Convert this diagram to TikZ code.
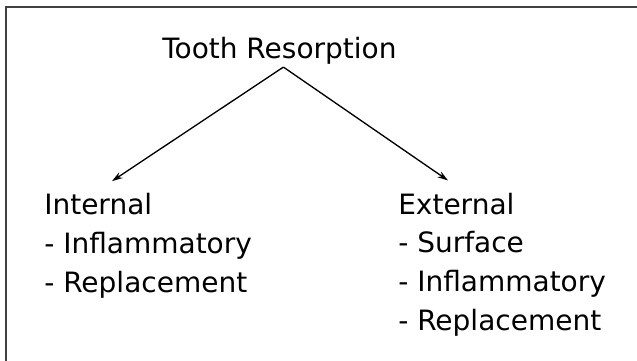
\documentclass[tikz,border=0pt]{standalone}
\usepackage{fontspec}
\newfontfamily\diafont{DejaVu Sans}
\usetikzlibrary{
  calc, % For coordinate calculations
  arrows.meta % For arrow tips
}

\begin{document}
\begin{tikzpicture}[
      x=0.75pt, y=-0.75pt, % Pixel units
      >={Stealth[length=8pt,width=5pt]}, % Default arrow tip
      frame/.style={line width=1.5pt, black!75}, % Style for the frame
      label/.style={inner sep=0pt, align=left, anchor=base west,
        font=\diafont\fontsize{21pt}{29pt}\selectfont}, % Style for texts
      branch/.style={line width=1pt, ->}, % Style for arrows
    ]
    % Rahmen
    \useasboundingbox (0, 0) rectangle (637, 361);
    \draw[frame] (6, 361) -- (6, 7) -- (637, 7);
    % Texte (Anker = Grundlinie der letzten Zeile)
    \node[label] (root) at (162, 58) {Tooth Resorption};
    \node[label] (internal) at (44, 292)
      {Internal\\- Inflammatory\\- Replacement};
    \node[label] (external) at (398, 330)
      {External\\- Surface\\- Inflammatory\\- Replacement};
    % Koordinaten der Pfeilenden
    \coordinate (apex) at ($(root.south) + (4, 3)$);
    \coordinate (tipI) at ($(internal.north west) + (68, -12)$);
    \coordinate (tipE) at ($(external.north west) + (50, -12)$);
    % Pfeile
    \draw[branch] (apex) -- (tipI);
    \draw[branch] (apex) -- (tipE);
  \end{tikzpicture}
\end{document}
